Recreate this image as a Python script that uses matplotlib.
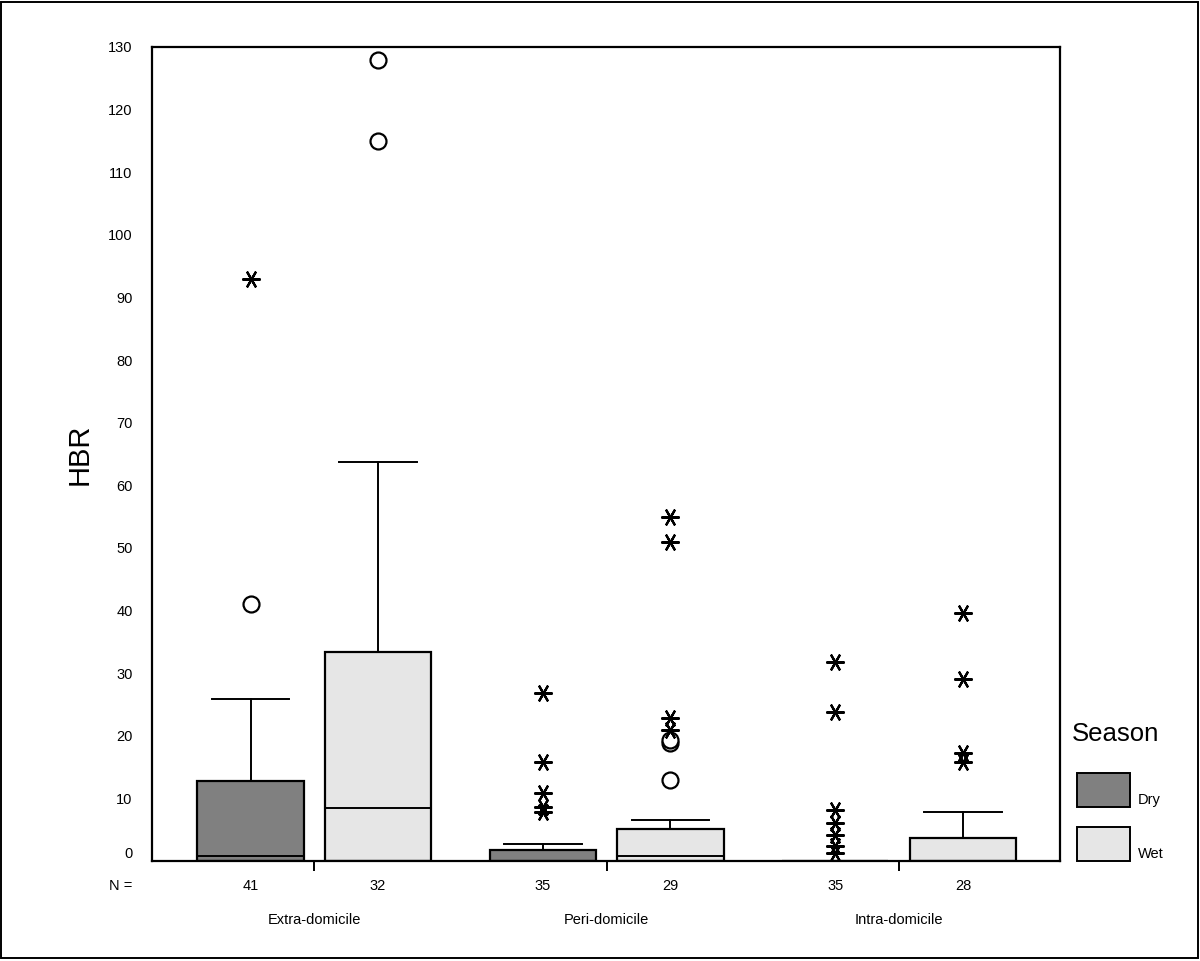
import matplotlib
matplotlib.use("Agg")
import matplotlib.pyplot as plt
from matplotlib.patches import Rectangle

plt.rcParams['font.family'] = ['Liberation Sans', 'DejaVu Sans']

# ------- data ------------------------------------------------
groups = ['Extra-domicile', 'Peri-domicile', 'Intra-domicile']
seasons = ['Dry', 'Wet']
n_counts = [41, 32, 35, 29, 35, 28]

# box stats per box, order: Extra Dry, Extra Wet, Peri Dry, Peri Wet, Intra Dry, Intra Wet
q1 = [0, 0, 0, 0, 0, 0]
med = [0.8, 8.5, 0, 0.8, 0, 0]
q3 = [12.8, 33.3, 1.8, 5.1, 0, 3.7]
whislo = [0, 0, 0, 0, 0, 0]
whishi = [25.8, 63.8, 2.7, 6.5, 0, 7.8]

# outliers (circles) and extremes (asterisks)
outliers = [[41], [128, 115], [], [18.8, 19.4, 12.9], [], []]
extremes = [[93], [], [26.8, 15.8, 10.9, 8.6, 7.8], [55, 51, 22.8, 20.9],
            [31.8, 23.8, 8.1, 6.1, 4.2, 2.4, 1.2], [39.6, 29.1, 17.2, 15.8]]

colors = {'Dry': '#808080', 'Wet': '#e6e6e6'}

# ------- layout ----------------------------
fig = plt.figure(figsize=(12, 9.61), dpi=100)
ax = fig.add_axes([152/1200, 1 - 861/961, 908/1200, 814/961])

offset = 0.218
positions = []
box_colors = []
for g in range(len(groups)):
    for s, season in enumerate(seasons):
        positions.append(g + 1 + (offset if s else -offset))
        box_colors.append(colors[season])

stats = []
for i in range(len(positions)):
    stats.append(dict(med=med[i], q1=q1[i], q3=q3[i], whislo=whislo[i],
                      whishi=whishi[i], fliers=[]))

bp = ax.bxp(stats, positions=positions, widths=0.363, patch_artist=True,
            showfliers=False, capwidths=0.264,
            boxprops=dict(linewidth=1.6, edgecolor='black'),
            whiskerprops=dict(linewidth=1.4, color='black'),
            capprops=dict(linewidth=1.4, color='black'),
            medianprops=dict(linewidth=1.4, color='black'))
for patch, c in zip(bp['boxes'], box_colors):
    patch.set_facecolor(c)

for i, x in enumerate(positions):
    if outliers[i]:
        ax.plot([x] * len(outliers[i]), outliers[i], linestyle='none', marker='o',
                markersize=11.5, markerfacecolor='white', markeredgecolor='black',
                markeredgewidth=1.6, zorder=5)
    if extremes[i]:
        ax.plot([x] * len(extremes[i]), extremes[i], linestyle='none',
                marker=(6, 2, 90), markersize=13, markeredgecolor='black',
                markeredgewidth=1.6, zorder=5)

ax.set_xlim(0.445, 3.55)
ax.set_ylim(0, 130)
ax.set_yticks(range(0, 131, 10))
ax.tick_params(axis='y', length=0, pad=14, labelsize=10.5)
ax.set_xticks([1, 2, 3])
ax.set_xticklabels([])
ax.tick_params(axis='x', direction='out', length=7, width=1.4)
for lab in ax.get_yticklabels():
    if lab.get_text() == '0':
        lab.set_verticalalignment('bottom')
for sp in ax.spines.values():
    sp.set_linewidth(1.6)

ax.set_ylabel('HBR', fontsize=21, labelpad=10)

# N counts and group names under the axis
tr = ax.get_xaxis_transform()
for x, n in zip(positions, n_counts):
    ax.text(x, -0.031, str(n), transform=tr, ha='center', va='center', fontsize=10.5)
for g, name in enumerate(groups):
    ax.text(g + 1, -0.072, name, transform=tr, ha='center', va='center', fontsize=10.5)
fig.text(132/1200, 1 - 886/961, 'N =', ha='right', va='center', fontsize=10.5)

# legend
fig.text(1072/1200, 1 - 734/961, 'Season', ha='left', va='center', fontsize=18.5)
for label, ytop in [('Dry', 773), ('Wet', 827)]:
    fig.add_artist(Rectangle((1077/1200, 1 - (ytop + 34)/961), 53/1200, 34/961,
                             transform=fig.transFigure, facecolor=colors[label],
                             edgecolor='black', linewidth=1.4))
    fig.text(1138/1200, 1 - (ytop + 31)/961, label, ha='left', va='baseline', fontsize=10.5)

# outer frame
fig.add_artist(Rectangle((1/1200, 3/961), 1197/1200, 956/961, transform=fig.transFigure,
                         fill=False, edgecolor='black', linewidth=1.4))

fig.savefig('out.png', dpi=100)
